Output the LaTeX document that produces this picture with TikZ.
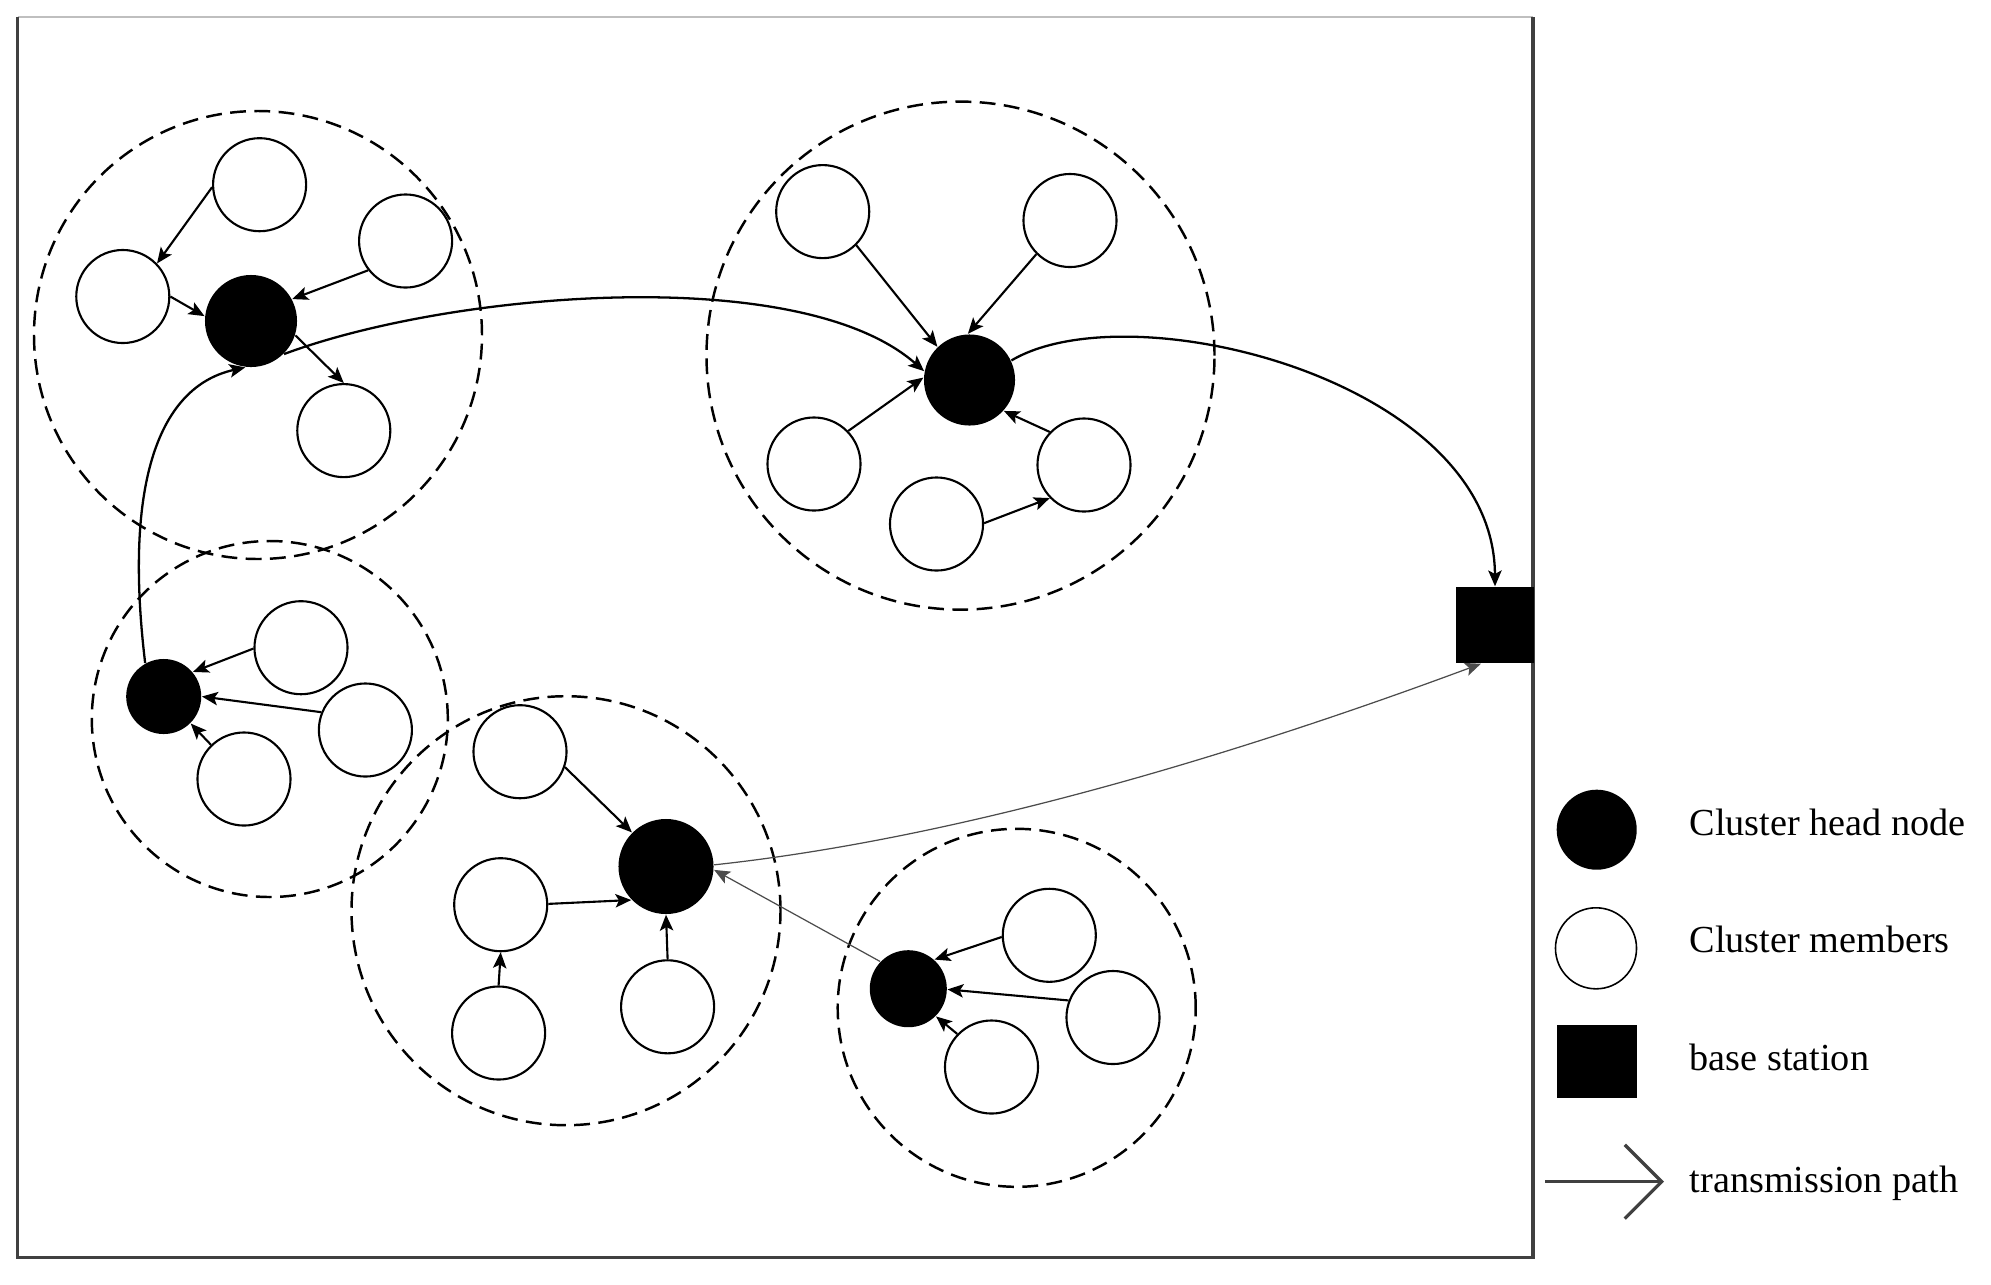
\documentclass[tikz,border=0pt]{standalone}
\usepackage{fontspec}
\setmainfont{Liberation Serif}
\usetikzlibrary{arrows.meta}

\begin{document}
\begin{tikzpicture}[x=0.01cm, y=0.01cm,
        >={Stealth[length=4.5pt,width=3.8pt,inset=1pt]},
        member/.style={circle, draw, line width=0.6pt, fill=white, minimum size=0.93cm, inner sep=0pt},
        head/.style={circle, fill=black, inner sep=0pt},
        station/.style={rectangle, fill=black, inner sep=0pt},
        zone/.style={line width=0.7pt, dash pattern=on 4.5pt off 2.4pt},
        link/.style={->, line width=0.6pt},
        route/.style={->, line width=0.65pt},
        thinroute/.style={->, line width=0.35pt, black!70},
        legend/.style={anchor=base west, inner sep=0pt, font=\fontsize{10.87}{13}\selectfont}]

        \useasboundingbox (0,0) rectangle (1991,-1284);
        \draw [line width=0.45pt, black!25] (17.5,-17) -- (1533,-17);                          %top
        \draw [line width=0.9pt, black!75]  (17.5,-17) -- (17.5,-1257.5) -- (1533,-1257.5) -- (1533,-17);

        \draw [zone] (258,-335)       circle (224);                                            %zone A
        \draw [zone] (960.5,-355.6)   circle (254);                                            %zone B
        \draw [zone] (269.8,-719)     circle (178);                                            %zone C
        \draw [zone] (566,-910.7)     circle (214.5);                                          %zone D
        \draw [zone] (1016.7,-1007.8) circle (179);                                            %zone E

        \node [head, minimum size=0.92cm] (chA) at (251,-321)      {};                         %CH A
        \node [member] (a1) at (259.6,-184.7) {};                                              %
        \node [member] (a2) at (122.8,-296.5) {};                                              %
        \node [member] (a3) at (405.6,-241)   {};                                              %
        \node [member] (a4) at (343.8,-430.6) {};                                              %
        \draw [link] (a1.183)  -- (a2.44);                                                     %
        \draw [link] (a2.0)    -- (chA.174);                                                   %
        \draw [link] (a3.218)  -- (chA.28);                                                    %
        \draw [link] (chA.-18) -- (a4.90);                                                     %

        \node [head, minimum size=0.91cm] (chB) at (969.5,-380)    {};                         %CH B
        \node [member] (b1) at (822.7,-211.6) {};                                              %
        \node [member] (b2) at (1070,-220.5)  {};                                              %
        \node [member] (b3) at (814,-464)     {};                                              %
        \node [member] (b4) at (936.5,-524)   {};                                              %
        \node [member] (b5) at (1084,-465)    {};                                              %
        \draw [link] (b1.-45)  -- (chB.134);                                                   %
        \draw [link] (b2.225)  -- (chB.92);                                                    %
        \draw [link] (b3.44)   -- (chB.177);                                                   %
        \draw [link] (b5.136)  -- (chB.-42);                                                   %
        \draw [link] (b4.1)    -- (b5.224);                                                    %

        \node [head, minimum size=0.75cm] (chC) at (163.7,-696.5)  {};                         %CH C
        \node [member] (c1) at (301,-647.7)   {};                                              %
        \node [member] (c2) at (365.4,-730)   {};                                              %
        \node [member] (c3) at (244,-779)     {};                                              %
        \draw [link] (c1.181)  -- (chC.40);                                                    %
        \draw [link] (c2.158)  -- (chC.0);                                                     %
        \draw [link] (c3.134)  -- (chC.-45);                                                   %

        \node [head, minimum size=0.95cm] (chD) at (666,-866.5)    {};                         %CH D
        \node [member] (d1) at (520,-751.7)   {};                                              %
        \node [member] (d2) at (500.7,-904.7) {};                                              %
        \node [member] (d3) at (498.6,-1033)  {};                                              %
        \node [member] (d4) at (667.6,-1006.8) {};                                             %
        \draw [link] (d1.-19)  -- (chD.135);                                                   %
        \draw [link] (d2.1)    -- (chD.224);                                                   %
        \draw [link] (d4.90)   -- (chD.-90);                                                   %
        \draw [link] (d3.90)   -- (d2.-90);                                                    %

        \node [head, minimum size=0.77cm] (chE) at (908.3,-988.7)  {};                         %CH E
        \node [member] (e1) at (1049.3,-935.3) {};                                             %
        \node [member] (e2) at (1113,-1017.5) {};                                              %
        \node [member] (e3) at (991.5,-1067)  {};                                              %
        \draw [link] (e1.182)  -- (chE.48);                                                    %
        \draw [link] (e2.159)  -- (chE.-1);                                                    %
        \draw [link] (e3.136)  -- (chE.-45);                                                   %

        \node [station, minimum width=0.78cm, minimum height=0.76cm] (bs) at (1495,-625) {};   %BS

        \draw [route] (chC.119) .. controls (122,-470) and (165,-385) .. (chA.263);            %C to A
        \draw [route] (chA.-45) .. controls (450,-292) and (800,-262) .. (chB.169);            %A to B
        \draw [route] (chB.25)  .. controls (1130,-290) and (1494,-380) .. (bs.north);         %B to BS
        \draw [thinroute] (chE.136) -- (chD.-4);                                               %E to D
        \draw [thinroute] (chD.2) .. controls (963.6,-838) and (1242.7,-752.3) .. (bs.-110);   %D to BS

        \node [head, minimum size=0.80cm] (lgHead) at (1596.7,-829.7) {};                      %legend
        \node [circle, draw, line width=0.45pt, minimum size=0.81cm, inner sep=0pt] (lgMem) at (1596,-948.3) {};
        \node [station, minimum width=0.80cm, minimum height=0.73cm] (lgBs) at (1596.7,-1061.7) {};
        \coordinate (lgFrom) at (1545,-1181.7);
        \coordinate (lgTo)   at (1664,-1181.7);
        \draw [line width=0.95pt, black!75, -{Straight Barb[length=10.5pt,width=21pt,line width=0.95pt]}] (lgFrom) -- (lgTo);
        \node [legend] (lgHeadTxt) at (1689,-835)    {Cluster head node};                      %
        \node [legend] (lgMemTxt)  at (1689,-952.7)  {Cluster members};                        %
        \node [legend] (lgBsTxt)   at (1689,-1070.5) {base station};                           %
        \node [legend] (lgPathTxt) at (1689,-1192.7) {transmission path};                      %
\end{tikzpicture}
\end{document}
